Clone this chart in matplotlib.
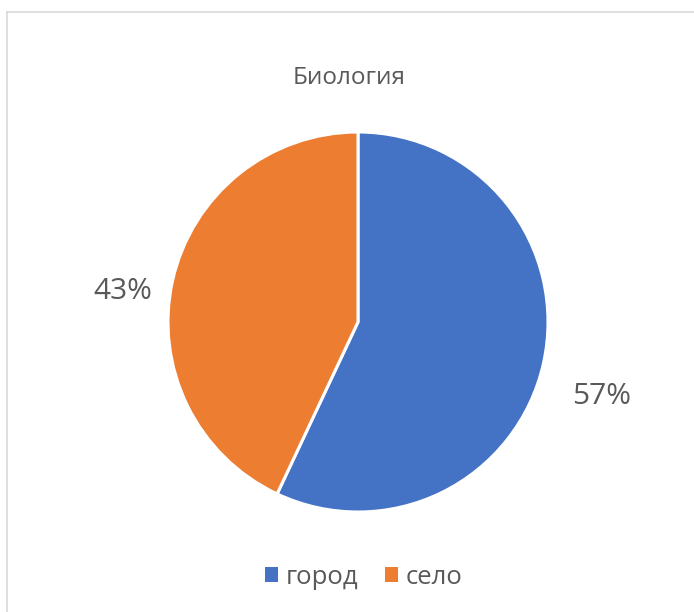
import numpy as np
import matplotlib as mpl
mpl.use('Agg')
import matplotlib.pyplot as plt
from matplotlib.lines import Line2D
from matplotlib.patches import Patch

plt.rcParams['font.family'] = ['Open Sans', 'DejaVu Sans']

title = 'Биология'
labels = ['город', 'село']
values = [57, 43]
colors = ['#4472C4', '#ED7D31']
txt = '#595959'

W, H = 694, 612
fig = plt.figure(figsize=(W / 100, H / 100), dpi=100)

# chart area border (only left and top visible in the crop)
fig.add_artist(Line2D([7 / W, 7 / W], [0, 1 - 12 / H], color='#d9d9d9', lw=1.2))
fig.add_artist(Line2D([7 / W, 1], [1 - 12 / H, 1 - 12 / H], color='#d9d9d9', lw=1.2))

# pie centre at (358, 322) px, radius 190 px
cx, cy, r = 358, 322, 190
ax = fig.add_axes([(cx - r) / W, (H - cy - r) / H, 2 * r / W, 2 * r / H])
wedges, _, pct = ax.pie(values, colors=colors, startangle=90, counterclock=False,
                        autopct='%d%%', pctdistance=1.3,
                        wedgeprops=dict(edgecolor='white', linewidth=2.2),
                        textprops=dict(color=txt, fontsize=21.5))
ax.set_xlim(-1, 1)
ax.set_ylim(-1, 1)
ax.set_aspect('equal')
ax.axis('off')

# Excel-style label placement
pct[0].set_position((1.28, -0.39))
pct[1].set_position((-1.24, 0.16))
for t in pct:
    t.set_ha('center')
    t.set_va('center')

fig.text(349 / W, 1 - 78 / H, title, ha='center', va='center', color=txt, fontsize=17.5)

handles = [Patch(facecolor=c, edgecolor='none') for c in colors]
fig.legend(handles, labels, loc='center', bbox_to_anchor=(364 / W, 1 - 577 / H),
           ncol=2, frameon=False, fontsize=18.5, labelcolor=txt,
           handlelength=0.5, handleheight=0.5, handletextpad=0.3, columnspacing=1.05)

plt.savefig('out.png', dpi=100)
plt.close()
